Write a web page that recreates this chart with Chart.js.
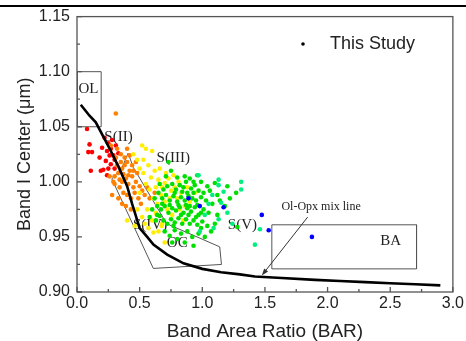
<!DOCTYPE html>
<html><head><meta charset="utf-8">
<script src="https://cdn.jsdelivr.net/npm/chart.js@4"></script>
<style>html,body{margin:0;padding:0;background:#fff}</style>
</head><body>
<canvas id="c" width="466" height="341"></canvas>
<script>
const xTicks = [0, 0.5, 1.0, 1.5, 2.0, 2.5, 3.0];
const yTicks = [0.90, 0.95, 1.00, 1.05, 1.10, 1.15];

const redPts = [[0.08,1.048],[0.10,1.034],[0.09,1.027],[0.12,1.027],[0.11,1.010],[0.19,1.010],[0.21,1.011],[0.20,1.031],[0.24,1.028],[0.25,1.035],[0.27,1.030],[0.26,1.024],[0.29,1.024],[0.23,1.019],[0.27,1.016],[0.30,1.020],[0.22,1.040],[0.28,1.038],[0.31,1.033],[0.25,1.012],[0.30,1.012],[0.18,1.022],[0.33,1.026],[0.24,1.006]];
const orangePts = [[0.31,1.062],[0.27,1.033],[0.32,1.030],[0.35,1.025],[0.30,1.005],[0.33,1.008],[0.36,1.012],[0.38,1.015],[0.40,1.018],[0.42,1.010],[0.44,1.005],[0.36,1.000],[0.39,1.003],[0.41,0.998],[0.45,0.995],[0.34,0.995],[0.37,0.990],[0.40,0.988],[0.43,0.985],[0.47,1.000],[0.50,0.996],[0.52,0.992],[0.30,0.998],[0.28,0.988],[0.33,0.985],[0.36,0.980],[0.39,0.978],[0.46,0.990],[0.48,1.008],[0.44,1.015],[0.29,1.000],[0.32,1.015],[0.38,1.022],[0.42,1.024],[0.47,1.018],[0.49,0.985],[0.54,0.988],[0.26,1.005],[0.35,1.018],[0.41,1.006],[0.37,1.007],[0.45,1.010],[0.56,0.995],[0.58,0.985],[0.51,0.980],[0.43,0.975],[0.31,1.022],[0.34,1.002],[0.62,0.990],[0.40,1.030]];
const yellowPts = [[0.45,1.025],[0.48,1.020],[0.55,1.030],[0.60,1.028],[0.50,1.012],[0.53,1.008],[0.57,1.015],[0.62,1.010],[0.65,1.002],[0.68,0.995],[0.70,0.999],[0.73,1.003],[0.75,0.992],[0.78,0.995],[0.55,0.998],[0.58,0.993],[0.61,0.985],[0.64,0.980],[0.67,0.988],[0.70,0.982],[0.72,0.975],[0.80,0.985],[0.83,0.990],[0.86,0.978],[0.90,0.982],[0.48,0.975],[0.52,0.968],[0.56,0.975],[0.60,0.965],[0.65,0.955],[0.70,0.945],[0.46,0.960],[0.40,0.965],[0.63,0.972],[0.76,0.970],[0.85,0.965],[0.53,1.020],[0.66,1.012],[0.59,1.004],[0.71,1.008],[0.77,1.006],[0.82,0.975],[0.88,0.995],[0.94,0.990],[0.68,0.962],[0.57,0.958],[0.74,0.985],[0.63,0.995],[0.50,0.990],[0.81,1.000],[0.52,1.033],[0.54,0.962],[0.61,0.954],[0.63,0.971],[0.675,0.960]];
const greenPts = [[0.73,1.018],[0.75,1.010],[0.71,1.005],[0.80,1.004],[0.86,1.005],[0.90,1.003],[0.96,1.006],[0.99,1.000],[1.04,0.996],[1.10,0.999],[1.20,0.996],[1.27,0.990],[0.66,0.998],[0.69,0.993],[0.72,0.996],[0.76,0.998],[0.79,0.993],[0.82,0.997],[0.85,0.995],[0.88,0.990],[0.91,0.994],[0.94,0.997],[0.97,0.992],[1.01,0.990],[1.06,0.992],[1.12,0.988],[0.62,0.985],[0.65,0.990],[0.68,0.985],[0.71,0.988],[0.74,0.983],[0.77,0.987],[0.80,0.982],[0.83,0.986],[0.86,0.983],[0.89,0.987],[0.92,0.985],[0.95,0.983],[0.99,0.986],[1.03,0.983],[1.08,0.980],[0.60,0.975],[0.64,0.978],[0.67,0.975],[0.70,0.978],[0.73,0.972],[0.76,0.976],[0.79,0.974],[0.82,0.977],[0.85,0.972],[0.88,0.976],[0.91,0.973],[0.94,0.977],[0.97,0.970],[1.01,0.975],[1.05,0.972],[1.12,0.970],[0.58,0.968],[0.63,0.965],[0.66,0.969],[0.69,0.965],[0.72,0.962],[0.75,0.966],[0.78,0.963],[0.81,0.967],[0.84,0.962],[0.87,0.966],[0.90,0.962],[0.93,0.965],[0.96,0.961],[1.00,0.964],[1.04,0.960],[0.70,0.955],[0.74,0.951],[0.78,0.956],[0.83,0.953],[0.88,0.955],[0.92,0.950],[0.97,0.953],[1.02,0.950],[0.76,0.945],[0.86,0.945],[0.93,0.942],[1.07,0.955],[1.28,0.959],[0.78,0.990],[0.81,0.979],[0.84,0.991],[0.87,0.979],[0.90,0.978],[0.93,0.990],[0.96,0.979],[0.74,0.979],[0.77,0.960],[0.83,0.970],[0.89,0.970],[0.95,0.968],[0.99,0.972],[0.68,0.980],[0.87,1.000],[0.93,1.000],[1.14,0.983],[1.18,0.978],[1.22,0.985],[0.64,0.970],[0.80,0.948],[0.99,0.958],[1.10,0.962]];
const springPts = [[0.97,1.006],[1.13,1.002],[1.13,0.997],[1.17,0.991],[1.31,1.000],[1.31,0.993],[1.13,0.966],[1.15,0.981],[1.24,0.962],[1.42,0.943],[1.46,0.957],[1.08,0.988],[1.02,0.970],[1.09,0.958],[0.98,0.955],[1.20,0.972],[1.05,0.980]];
const bluePts = [[0.89,0.985],[0.98,0.978],[1.17,0.977],[1.475,0.970],[1.53,0.956],[1.875,0.950]];

const mixX = [0.03,0.10,0.15,0.21,0.27,0.33,0.40,0.44,0.50,0.56,0.61,0.72,0.85,1.00,1.15,1.30,1.42,1.60,1.90,2.10,2.30,2.50,2.70,2.90];
const mixY = [1.070,1.060,1.054,1.041,1.028,1.014,0.996,0.980,0.958,0.950,0.943,0.934,0.926,0.921,0.918,0.916,0.914,0.913,0.911,0.910,0.909,0.908,0.907,0.906];

const olBox = [[0,1.050],[0.193,1.050],[0.193,1.100],[0,1.100],[0,1.050]];
const ocPoly = [[0.408,1.026],[0.45,1.013],[0.716,0.962],[1.139,0.941],[1.153,0.925],[0.609,0.9214],[0.278,1.0026],[0.36,1.013],[0.408,1.026]];
const baBox = [[1.555,0.961],[2.71,0.961],[2.71,0.921],[1.555,0.921],[1.555,0.961]];

const regionLabels = ['OL','S(II)','S(III)','S(IV)','OC','S(V)','BA','Ol-Opx mix line'];
const labelAnchors = [[0.092,1.084],[0.331,1.041],[0.768,1.0216],[0.583,0.9605],[0.80,0.944],[1.32,0.9605],[2.504,0.946],[1.948,0.9776]];
const arrowFrom = [1.841,0.968];
const arrowTo = [1.475,0.915];
const legendText = 'This Study';

const toXY = a => a.map(p => ({x:p[0], y:p[1]}));
const ptsDs = (pts, col) => ({type:'scatter', data:toXY(pts), backgroundColor:col, borderWidth:0, pointRadius:2.3, order:2});
const lineDs = (pts, col, w, ord) => ({type:'line', data:toXY(pts), borderColor:col, borderWidth:w, pointRadius:0, fill:false, tension:0, order:ord});

const SANS = "'Liberation Sans', Arial, sans-serif";
const SERIF = "'Liberation Serif', 'Times New Roman', serif";

const deco = {
  id:'deco',
  beforeDatasetsDraw(chart){
    const ctx = chart.ctx, xs = chart.scales.x, ys = chart.scales.y;
    ctx.save();
    ctx.fillStyle = '#222';
    ctx.textAlign = 'center'; ctx.textBaseline = 'middle';
    regionLabels.forEach((t,i) => {
      ctx.font = (t.length > 8 ? '12px ' : '15px ') + SERIF;
      ctx.fillText(t, xs.getPixelForValue(labelAnchors[i][0]), ys.getPixelForValue(labelAnchors[i][1]));
    });
    ctx.restore();
  },
  afterDraw(chart){
    const ctx = chart.ctx, xs = chart.scales.x, ys = chart.scales.y, a = chart.chartArea;
    ctx.save();
    const x0 = xs.getPixelForValue(arrowFrom[0]), y0 = ys.getPixelForValue(arrowFrom[1]);
    const x1 = xs.getPixelForValue(arrowTo[0]), y1 = ys.getPixelForValue(arrowTo[1]);
    const ang = Math.atan2(y1-y0, x1-x0);
    ctx.strokeStyle = '#333'; ctx.fillStyle = '#333'; ctx.lineWidth = 1;
    ctx.beginPath(); ctx.moveTo(x0,y0); ctx.lineTo(x1 - 4*Math.cos(ang), y1 - 4*Math.sin(ang)); ctx.stroke();
    ctx.beginPath(); ctx.moveTo(x1,y1);
    ctx.lineTo(x1 - 7*Math.cos(ang) + 2.5*Math.sin(ang), y1 - 7*Math.sin(ang) - 2.5*Math.cos(ang));
    ctx.lineTo(x1 - 7*Math.cos(ang) - 2.5*Math.sin(ang), y1 - 7*Math.sin(ang) + 2.5*Math.cos(ang));
    ctx.closePath(); ctx.fill();
    ctx.strokeStyle = '#555'; ctx.lineWidth = 1.3;
    ctx.strokeRect(a.left, a.top, a.right - a.left, a.bottom - a.top);
    ctx.beginPath();
    for (let i = 0; i <= 12; i++) {
      const v = i*0.25, px = xs.getPixelForValue(v), L = i%2===0 ? 5 : 3;
      ctx.moveTo(px, a.bottom); ctx.lineTo(px, a.bottom - L);
    }
    for (let i = 0; i <= 10; i++) {
      const v = 0.9 + i*0.025, py = ys.getPixelForValue(v), L = i%2===0 ? 5 : 3;
      ctx.moveTo(a.left, py); ctx.lineTo(a.left + L, py);
    }
    ctx.stroke();
    ctx.fillStyle = '#000';
    ctx.beginPath(); ctx.arc(303, 44, 1.8, 0, Math.PI*2); ctx.fill();
    ctx.fillStyle = '#222'; ctx.font = '18px ' + SANS; ctx.textAlign = 'left'; ctx.textBaseline = 'middle';
    ctx.fillText(legendText, 330, 44);
    ctx.fillStyle = '#000'; ctx.fillRect(0, 5, 466, 2);
    ctx.restore();
  }
};

new Chart(document.getElementById('c'), {
  data: {
    datasets: [
      lineDs(mixX.map((x,i)=>[x,mixY[i]]), '#000', 2.6, 0),
      ptsDs(bluePts, '#0000ff'),
      ptsDs(springPts, '#00f080'),
      ptsDs(greenPts, '#00e000'),
      ptsDs(yellowPts, '#ffee00'),
      ptsDs(orangePts, '#ff8000'),
      ptsDs(redPts, '#ff0000'),
      lineDs(olBox, '#555', 1, 3),
      lineDs(ocPoly, '#555', 1, 3),
      lineDs(baBox, '#555', 1, 3)
    ]
  },
  options: {
    responsive:false, animation:false, events:[],
    layout:{padding:{top:15, right:12, left:0, bottom:0}},
    plugins:{legend:{display:false}, tooltip:{enabled:false}},
    scales:{
      x:{type:'linear', min:0, max:3,
        afterFit(s){ s.height = 49; },
        afterBuildTicks(s){ s.ticks = xTicks.map(v => ({value:v})); },
        grid:{display:false, drawTicks:false}, border:{display:false},
        ticks:{padding:2, autoSkip:false, maxRotation:0, color:'#222', font:{family:SANS, size:16}, callback:v => Number(v).toFixed(1)},
        title:{display:true, text:'Band Area Ratio (BAR)', color:'#222', font:{family:SANS, size:19, lineHeight:1}, padding:{top:0, bottom:0}}
      },
      y:{type:'linear', min:0.90, max:1.15,
        afterFit(s){ s.width = 77; },
        afterBuildTicks(s){ s.ticks = yTicks.map(v => ({value:v})); },
        grid:{display:false, drawTicks:false}, border:{display:false},
        ticks:{padding:7, autoSkip:false, color:'#222', font:{family:SANS, size:16}, callback:v => Number(v).toFixed(2)},
        title:{display:true, text:'Band I Center (μm)', color:'#222', font:{family:SANS, size:18, lineHeight:1}, padding:{top:16, bottom:0}}
      }
    }
  },
  plugins:[deco]
});
</script>
</body></html>
